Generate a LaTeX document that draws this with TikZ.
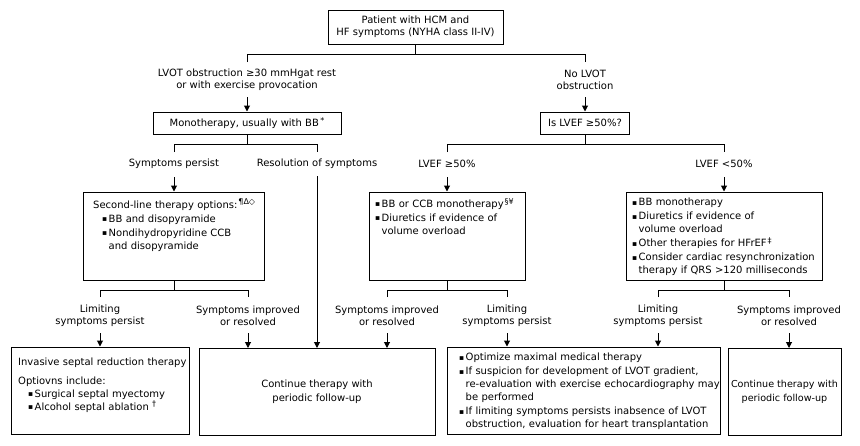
\documentclass[tikz,border=0pt]{standalone}
\usepackage{fontspec}
\usepackage{graphicx}
\setmainfont{DejaVu Sans}
\usetikzlibrary{arrows.meta}
\newcommand\bitem[1]{\noindent\hangindent=6.5pt\hangafter=1\makebox[6.5pt][l]{\raisebox{0.8pt}{\scalebox{0.75}{▪}}}#1}
\newcommand\bgap{\par\vspace{1pt}}
\newcommand\sups[1]{\raisebox{3.5pt}{\fontsize{8}{8}\selectfont #1}}
\begin{document}
\begin{tikzpicture}[x=1pt,y=-1pt,
  font=\fontsize{10}{12}\selectfont,
  box/.style={draw,line width=1pt,inner sep=0pt,align=center},
  txt/.style={inner sep=0pt,anchor=north west,text width=320pt,font=\fontsize{10}{13}\selectfont},
  lab/.style={inner sep=0pt,align=center},
  ln/.style={line width=1pt},
  arr/.style={line width=1pt,-{Triangle[length=6pt,width=6pt]}}]
\useasboundingbox[fill=white] (0,0) rectangle (860,445);

% boxes
\node[box,minimum width=175pt,minimum height=34pt] (top) at (415.5,27) {Patient with HCM and\\HF symptoms (NYHA class II-IV)};
\node[box,minimum width=188pt,minimum height=22pt] (mono) at (247,123) {Monotherapy, usually with BB\kern1.5pt\sups{*}};
\node[box,minimum width=89pt,minimum height=22pt] (lvef) at (585,123) {Is LVEF ≥50\%?};
\node[box,minimum width=181pt,minimum height=88pt] (second) at (174,236) {};
\node[box,minimum width=156pt,minimum height=88pt] (bbccb) at (447,236) {};
\node[box,minimum width=196pt,minimum height=88pt] (lt50) at (724,236) {};
\node[box,minimum width=178pt,minimum height=87pt] (b1) at (100,390.5) {};
\node[box,minimum width=236pt,minimum height=87pt,font=\fontsize{10}{14}\selectfont] (b2) at (317,392) {Continue therapy with\\periodic follow-up};
\node[box,minimum width=273pt,minimum height=87pt] (b3) at (583.5,390.5) {};
\node[box,minimum width=113pt,minimum height=87pt,font=\fontsize{9.6}{14}\selectfont] (b4) at (784.5,392) {Continue therapy with\\periodic follow-up};

% box texts
\node[txt] (t2) at (93,198.5) {Second-line therapy options:\kern1pt\sups{¶Δ◇}\bgap
  \leftskip=9pt\bitem{BB and disopyramide}\bgap
  \bitem{Nondihydropyridine CCB\newline and disopyramide}\par};
\node[txt] (t3) at (375,198) {\bitem{BB or CCB monotherapy\kern1pt\sups{§¥}}\bgap
  \bitem{Diuretics if evidence of\newline volume overload}\par};
\node[txt] (t4) at (632,198) {\bitem{BB monotherapy}\bgap
  \bitem{Diuretics if evidence of\newline volume overload}\bgap
  \bitem{Other therapies for HFrEF\kern1pt\sups{‡}}\bgap
  \bitem{Consider cardiac resynchronization\newline therapy if QRS >120 milliseconds}\par};
\node[txt] (t5) at (18,357.5) {Invasive septal reduction therapy\par\vspace{6pt}
  \noindent Optiovns include:\par
  \leftskip=10pt\bitem{Surgical septal myectomy}\par
  \bitem{Alcohol septal ablation \sups{†}}\par};
\node[txt] (t6) at (459,353) {\bitem{Optimize maximal medical therapy}\bgap
  \bitem{If suspicion for development of LVOT gradient,\newline re-evaluation with exercise echocardiography may\newline be performed}\bgap
  \bitem{If limiting symptoms persists inabsence of LVOT\newline obstruction, evaluation for heart transplantation}\par};

% labels
\node[lab] (l1) at (247,79.5) {LVOT obstruction ≥30 mmHgat rest\\or with exercise provocation};
\node[lab] (l2) at (585,79.5) {No LVOT\\obstruction};
\node[lab] (l3) at (174,164) {Symptoms persist};
\node[lab] (l4) at (317,164) {Resolution of symptoms};
\node[lab] (l5) at (447,164) {LVEF ≥50\%};
\node[lab] (l6) at (724,164) {LVEF <50\%};
\node[lab] (l7) at (100,316) {Limiting\\symptoms persist};
\node[lab] (l8) at (248,316) {Symptoms improved\\or resolved};
\node[lab] (l9) at (387,316) {Symptoms improved\\or resolved};
\node[lab] (l10) at (507,316) {Limiting\\symptoms persist};
\node[lab] (l11) at (658,316) {Limiting\\symptoms persist};
\node[lab] (l12) at (789,316) {Symptoms improved\\or resolved};

% junction coordinates
\coordinate (j0) at (415.5,54);
\coordinate (jL) at (247,54); \coordinate (jLt) at (247,62);
\coordinate (jR) at (585,54); \coordinate (jRt) at (585,62);
\coordinate (a1) at (247,97); \coordinate (a2) at (585,97);
\coordinate (k0) at (247,144);
\coordinate (kL) at (174,144); \coordinate (kLt) at (174,152);
\coordinate (kR) at (317,144); \coordinate (kRt) at (317,152);
\coordinate (m0) at (585,144);
\coordinate (mL) at (447,144); \coordinate (mLt) at (447,152);
\coordinate (mR) at (724,144); \coordinate (mRt) at (724,152);
\coordinate (a3) at (174,177); \coordinate (a4) at (317,176);
\coordinate (a5) at (447,177); \coordinate (a6) at (724,177);
\coordinate (n1) at (174,290);
\coordinate (n1L) at (100,290); \coordinate (n1Lt) at (100,297);
\coordinate (n1R) at (248,290); \coordinate (n1Rt) at (248,297);
\coordinate (n2) at (447,290);
\coordinate (n2L) at (387,290); \coordinate (n2Lt) at (387,297);
\coordinate (n2R) at (507,290); \coordinate (n2Rt) at (507,297);
\coordinate (n3) at (724,290);
\coordinate (n3L) at (658,290); \coordinate (n3Lt) at (658,297);
\coordinate (n3R) at (789,290); \coordinate (n3Rt) at (789,297);
\coordinate (c7) at (100,333); \coordinate (c8) at (248,333);
\coordinate (c9) at (387,333); \coordinate (c10) at (507,333);
\coordinate (c11) at (658,333); \coordinate (c12) at (789,333);

% connectors
\draw[ln] (top.south) -- (j0);
\draw[ln] (jLt) -- (jL) -- (jR) -- (jRt);
\draw[arr] (a1) -- (mono.north);
\draw[arr] (a2) -- (lvef.north);
\draw[ln] (mono.south) -- (k0);
\draw[ln] (kLt) -- (kL) -- (kR) -- (kRt);
\draw[ln] (lvef.south) -- (m0);
\draw[ln] (mLt) -- (mL) -- (mR) -- (mRt);
\draw[arr] (a3) -- (second.north);
\draw[arr] (a4) -- (a4 |- b2.north);
\draw[arr] (a5) -- (bbccb.north);
\draw[arr] (a6) -- (lt50.north);
\draw[ln] (second.south) -- (n1);
\draw[ln] (n1Lt) -- (n1L) -- (n1R) -- (n1Rt);
\draw[ln] (bbccb.south) -- (n2);
\draw[ln] (n2Lt) -- (n2L) -- (n2R) -- (n2Rt);
\draw[ln] (lt50.south) -- (n3);
\draw[ln] (n3Lt) -- (n3L) -- (n3R) -- (n3Rt);
\draw[arr] (c7) -- (b1.north);
\draw[arr] (c8) -- (c8 |- b2.north);
\draw[arr] (c9) -- (c9 |- b2.north);
\draw[arr] (c10) -- (c10 |- b3.north);
\draw[arr] (c11) -- (c11 |- b3.north);
\draw[arr] (c12) -- (c12 |- b4.north);
\end{tikzpicture}
\end{document}
